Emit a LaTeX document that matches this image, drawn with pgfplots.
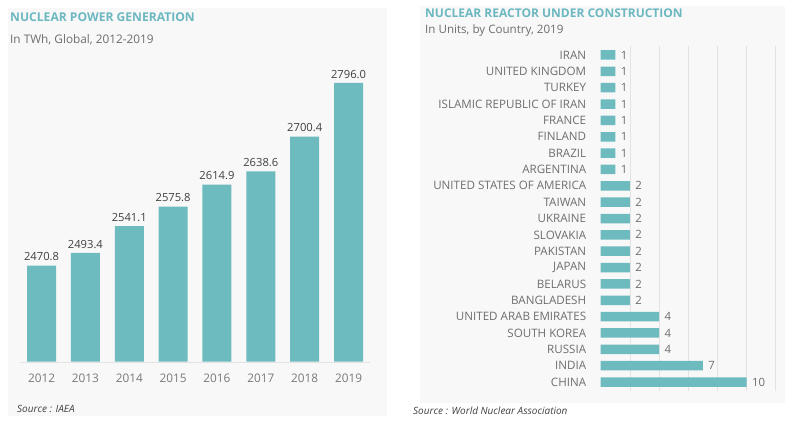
\documentclass[border=0pt]{standalone}
\usepackage{fontspec}
\setmainfont{Open Sans}
\usepackage{pgfplots}
\pgfplotsset{compat=1.18}
\definecolor{barc}{HTML}{6DBBBF}
\definecolor{titlec}{HTML}{6CB8C0}
\definecolor{subc}{HTML}{6E6E6E}
\definecolor{valc}{HTML}{404040}
\definecolor{tickc}{HTML}{7A7A7A}
\definecolor{bgc}{HTML}{F8F8F8}
\definecolor{gridc}{HTML}{E3E3E3}
\begin{document}
\begin{tikzpicture}
\path[use as bounding box] (0pt,0pt) rectangle (795pt,-425pt);
\fill[bgc] (8pt,-8pt) rectangle (387pt,-416pt);
\fill[bgc] (420pt,-6pt) rectangle (785pt,-403pt);
% titles
\node[anchor=west,text=titlec,font=\bfseries\fontsize{12.1}{14}\selectfont,inner sep=0pt] at (10pt,-17pt) {NUCLEAR POWER GENERATION};
\node[anchor=west,text=subc,font=\fontsize{11.8}{14}\selectfont,inner sep=0pt] at (10pt,-40pt) {In TWh, Global, 2012-2019};
\node[anchor=west,text=titlec,font=\bfseries\fontsize{12}{14}\selectfont,inner sep=0pt] at (425pt,-13pt) {NUCLEAR REACTOR UNDER CONSTRUCTION};
\node[anchor=west,text=subc,font=\fontsize{11.6}{14}\selectfont,inner sep=0pt] at (425pt,-30pt) {In Units, by Country, 2019};
\node[anchor=west,text=valc,font=\itshape\fontsize{10}{12}\selectfont,inner sep=0pt] at (17pt,-409pt) {Source : IAEA};
\node[anchor=west,text=valc,font=\itshape\fontsize{10}{12}\selectfont,inner sep=0pt] at (413pt,-411pt) {Source : World Nuclear Association};
% left chart
\begin{axis}[
  at={(19.6pt,-361.7pt)}, anchor=south west,
  scale only axis, width=350.9pt, height=337.3pt,
  xmin=-0.5, xmax=7.5, ymin=2300, ymax=2900,
  axis x line*=bottom, axis line style={draw=gridc, -},
  hide y axis,
  xtick={0,...,7}, xticklabels={2012,2013,2014,2015,2016,2017,2018,2019},
  major tick length=0pt,
  xticklabel style={text=tickc, font=\fontsize{11.8}{14}\selectfont, yshift=-9pt},
  clip=false,
  nodes near coords, point meta=explicit symbolic,
  every node near coord/.append style={text=valc, font=\fontsize{11.2}{13}\selectfont, yshift=1pt},
]
\addplot[ybar, bar width=29pt, fill=barc, draw=none] coordinates {
(0,2470.8) [2470.8]
(1,2493.4) [2493.4]
(2,2541.1) [2541.1]
(3,2575.8) [2575.8]
(4,2614.9) [2614.9]
(5,2638.6) [2638.6]
(6,2700.4) [2700.4]
(7,2796.0) [2796.0]
};
\end{axis}
% right chart
\begin{axis}[
  at={(600.7pt,-391pt)}, anchor=south west,
  scale only axis, width=175pt, height=345pt,
  xmin=0, xmax=12, ymin=-0.55, ymax=20.55, y dir=reverse,
  axis line style={draw=none},
  major tick length=0pt,
  xtick={2,4,...,12}, xticklabels={},
  xmajorgrids, grid style={draw=gridc, line width=0.6pt},
  ytick={0,...,20},
  yticklabels={IRAN,UNITED KINGDOM,TURKEY,ISLAMIC REPUBLIC OF IRAN,FRANCE,FINLAND,BRAZIL,ARGENTINA,UNITED STATES OF AMERICA,TAIWAN,UKRAINE,SLOVAKIA,PAKISTAN,JAPAN,BELARUS,BANGLADESH,UNITED ARAB EMIRATES,SOUTH KOREA,RUSSIA,INDIA,CHINA},
  yticklabel style={text=subc, font=\fontsize{11.6}{13}\selectfont, xshift=-11pt},
  clip=false,
  nodes near coords, point meta=explicit symbolic,
  every node near coord/.append style={text=subc, font=\fontsize{11.4}{13}\selectfont, anchor=west, xshift=2pt},
]
\addplot[xbar, bar width=9.5pt, fill=barc, draw=none] coordinates {
(1,0) [1]
(1,1) [1]
(1,2) [1]
(1,3) [1]
(1,4) [1]
(1,5) [1]
(1,6) [1]
(1,7) [1]
(2,8) [2]
(2,9) [2]
(2,10) [2]
(2,11) [2]
(2,12) [2]
(2,13) [2]
(2,14) [2]
(2,15) [2]
(4,16) [4]
(4,17) [4]
(4,18) [4]
(7,19) [7]
(10,20) [10]
};
\end{axis}
\end{tikzpicture}
\end{document}
